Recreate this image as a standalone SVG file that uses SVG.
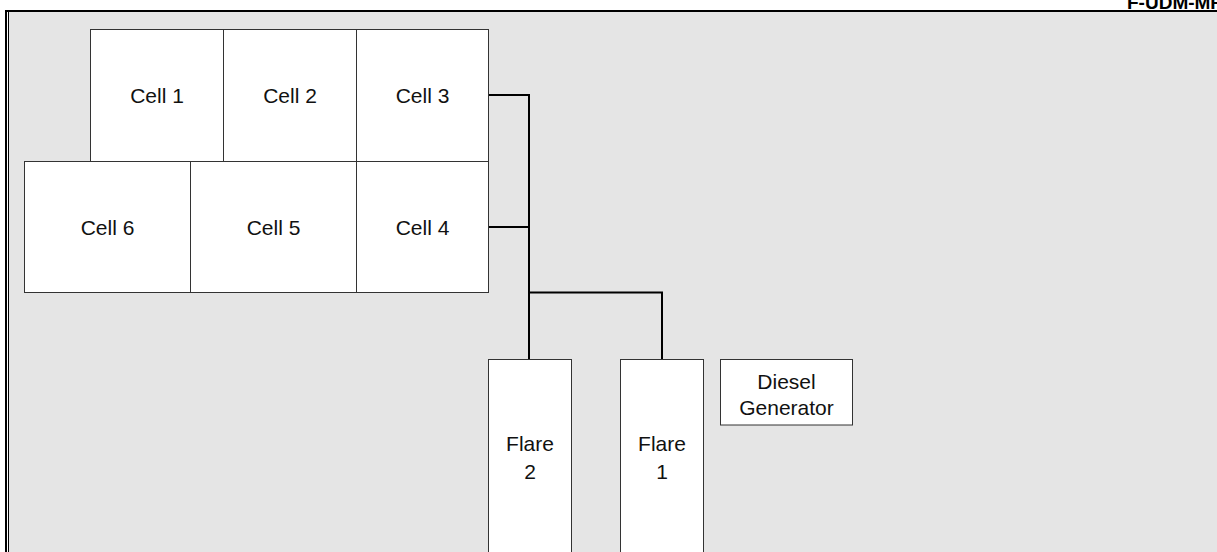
<svg xmlns="http://www.w3.org/2000/svg" width="1217" height="552" viewBox="0 0 1217 552">
<style>
  .box { fill: #ffffff; stroke: #333333; stroke-width: 1; }
  .lbl { font-family: "Liberation Sans", Arial, sans-serif; font-size: 21px; fill: #111111; text-anchor: middle; }
  .title { font-family: "Liberation Sans", Arial, sans-serif; font-size: 19px; font-weight: bold; fill: #000000; }
  .conn { fill: none; stroke: #000000; stroke-width: 2; }
</style>
<rect x="0" y="0" width="1217" height="552" fill="#ffffff"/>
<rect x="9" y="12" width="1208" height="540" fill="#e5e5e5"/>
<g id="frame">
  <line x1="5" y1="11" x2="1217" y2="11" stroke="#000" stroke-width="2"/>
  <line x1="6" y1="10" x2="6" y2="552" stroke="#000" stroke-width="2"/>
  <line x1="8.5" y1="12" x2="8.5" y2="552" stroke="#000" stroke-width="1"/>
  <text class="title" x="1127" y="8.5">F-UDM-MR</text>
</g>
<g id="connectors">
  <path class="conn" d="M488.5 95 H529 V359"/>
  <path class="conn" d="M488.5 227 H529"/>
  <path class="conn" d="M529 292.5 H662 V359"/>
</g>
<g id="cell1"><rect class="box" x="90.5" y="29.5" width="133" height="132"/><text class="lbl" x="157" y="103">Cell 1</text></g>
<g id="cell2"><rect class="box" x="223.5" y="29.5" width="133" height="132"/><text class="lbl" x="290" y="103">Cell 2</text></g>
<g id="cell3"><rect class="box" x="356.5" y="29.5" width="132" height="132"/><text class="lbl" x="422.5" y="103">Cell 3</text></g>
<g id="cell6"><rect class="box" x="24.5" y="161.5" width="166" height="131"/><text class="lbl" x="107.5" y="235">Cell 6</text></g>
<g id="cell5"><rect class="box" x="190.5" y="161.5" width="166" height="131"/><text class="lbl" x="273.5" y="235">Cell 5</text></g>
<g id="cell4"><rect class="box" x="356.5" y="161.5" width="132" height="131"/><text class="lbl" x="422.5" y="235">Cell 4</text></g>
<g id="flare2"><rect class="box" x="488.5" y="359.5" width="83" height="200"/><text class="lbl" x="530" y="451">Flare</text><text class="lbl" x="530" y="479">2</text></g>
<g id="flare1"><rect class="box" x="620.5" y="359.5" width="83" height="200"/><text class="lbl" x="662" y="451">Flare</text><text class="lbl" x="662" y="479">1</text></g>
<g id="diesel"><rect class="box" x="720.5" y="359.5" width="132" height="65.5"/><text class="lbl" x="786.5" y="389">Diesel</text><text class="lbl" x="786.5" y="415">Generator</text></g>
</svg>
